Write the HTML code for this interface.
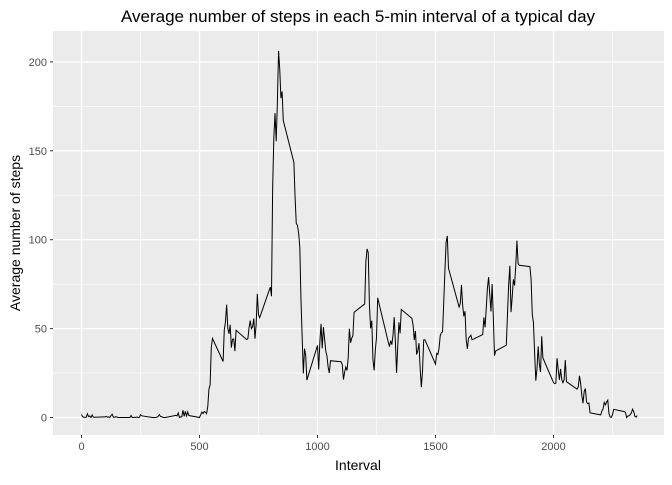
<!DOCTYPE html>
<html><head><meta charset="utf-8"><style>
body{margin:0;background:#fff;}
svg text{font-family:"Liberation Sans",sans-serif;}
</style></head><body>
<svg id="chart" width="672" height="480">
<rect x="0" y="0" width="672" height="480" fill="#fff"/>
<rect x="53" y="31" width="611" height="404" fill="#EBEBEB"/>
<g id="grid"></g>
<g id="axes"></g>
<path id="line" fill="none" stroke="#000" stroke-width="1"/>
<text x="358" y="22" text-anchor="middle" font-size="17" fill="#000">Average number of steps in each 5-min interval of a typical day</text>
<text x="358" y="470" text-anchor="middle" font-size="14" fill="#000">Interval</text>
<text transform="translate(20,233) rotate(-90)" text-anchor="middle" font-size="14" fill="#000">Average number of steps</text>
</svg>
<script>
const intervals=[0,5,10,15,20,25,30,35,40,45,50,55,100,105,110,115,120,125,130,135,140,145,150,155,200,205,210,215,220,225,230,235,240,245,250,255,300,305,310,315,320,325,330,335,340,345,350,355,400,405,410,415,420,425,430,435,440,445,450,455,500,505,510,515,520,525,530,535,540,545,550,555,600,605,610,615,620,625,630,635,640,645,650,655,700,705,710,715,720,725,730,735,740,745,750,755,800,805,810,815,820,825,830,835,840,845,850,855,900,905,910,915,920,925,930,935,940,945,950,955,1000,1005,1010,1015,1020,1025,1030,1035,1040,1045,1050,1055,1100,1105,1110,1115,1120,1125,1130,1135,1140,1145,1150,1155,1200,1205,1210,1215,1220,1225,1230,1235,1240,1245,1250,1255,1300,1305,1310,1315,1320,1325,1330,1335,1340,1345,1350,1355,1400,1405,1410,1415,1420,1425,1430,1435,1440,1445,1450,1455,1500,1505,1510,1515,1520,1525,1530,1535,1540,1545,1550,1555,1600,1605,1610,1615,1620,1625,1630,1635,1640,1645,1650,1655,1700,1705,1710,1715,1720,1725,1730,1735,1740,1745,1750,1755,1800,1805,1810,1815,1820,1825,1830,1835,1840,1845,1850,1855,1900,1905,1910,1915,1920,1925,1930,1935,1940,1945,1950,1955,2000,2005,2010,2015,2020,2025,2030,2035,2040,2045,2050,2055,2100,2105,2110,2115,2120,2125,2130,2135,2140,2145,2150,2155,2200,2205,2210,2215,2220,2225,2230,2235,2240,2245,2250,2255,2300,2305,2310,2315,2320,2325,2330,2335,2340,2345,2350,2355];
const steps=[1.72,0.34,0.13,0.15,0.08,2.09,0.53,0.87,0,1.47,0.3,0.13,0.32,0.68,0.15,0.34,0,1.11,1.83,0.17,0.17,0.38,0.26,0,0,0,1.13,0,0,0.13,0,0.23,0,0,1.55,0.94,0,0,0,0,0.21,0.62,1.62,0.58,0.49,0.08,0,0,1.19,0.94,2.57,0,0.34,0.36,4.11,0.66,3.49,0.83,3.11,1.11,0,1.57,3,2.25,3.32,2.96,2.09,6.06,16.02,18.34,39.45,44.49,31.49,49.26,53.77,63.45,49.96,47.08,52.15,39.34,44.02,44.17,37.36,49.04,43.81,44.38,50.51,54.51,49.92,50.98,55.68,44.32,52.26,69.55,57.85,56.15,73.38,68.21,129.43,157.53,171.15,155.4,177.3,206.17,195.92,179.57,183.4,167.02,143.45,124.04,109.11,108.11,103.72,95.96,66.21,45.23,24.79,38.75,34.98,21.06,40.57,26.98,42.42,52.66,38.92,50.79,44.28,37.42,34.7,28.34,25.09,31.94,31.36,29.68,21.32,25.55,28.38,26.47,33.43,49.98,42.04,44.6,46.04,59.19,63.87,87.7,94.85,92.77,63.4,50.17,54.47,32.42,26.53,37.74,45.06,67.28,42.34,39.89,43.26,40.98,46.25,56.43,42.75,25.13,39.96,53.55,47.32,60.81,55.75,51.96,43.58,48.7,35.47,37.55,41.85,27.51,17.11,26.08,43.62,43.77,30.02,36.08,35.49,38.85,45.96,47.75,48.13,65.32,82.91,98.66,102.11,83.96,62.13,64.13,74.55,63.17,56.91,59.77,43.87,38.57,44.66,45.45,46.21,43.68,46.62,56.3,50.72,61.23,72.72,78.94,68.94,59.66,75.09,56.51,34.77,37.45,40.68,58.02,74.7,85.32,59.26,67.77,77.7,74.25,85.34,99.45,86.58,85.6,84.87,77.83,58.04,53.36,36.32,20.72,27.4,40.02,30.21,25.55,45.66,33.53,19.62,19.02,19.34,33.34,26.81,21.17,27.3,21.34,19.55,21.32,32.3,20.15,15.94,17.23,23.45,19.25,12.45,8.02,14.66,16.3,8.68,7.79,8.13,2.62,1.45,3.68,4.81,8.51,7.08,8.7,9.75,2.21,0.32,0.11,1.6,4.6,3.3,2.85,0,0.83,0.96,1.58,2.6,4.7,3.3,0.64,0.23,1.08];
const xTicks=[0,500,1000,1500,2000];
const yTicks=[0,50,100,150,200];
const X=v=>81.5+v*0.236, Y=v=>417.5-v*1.778;
const NS='http://www.w3.org/2000/svg';
const grid=document.getElementById('grid'), axes=document.getElementById('axes');
function ln(p,x1,y1,x2,y2,c,w){const l=document.createElementNS(NS,'line');l.setAttribute('x1',x1);l.setAttribute('y1',y1);l.setAttribute('x2',x2);l.setAttribute('y2',y2);l.setAttribute('stroke',c);l.setAttribute('stroke-width',w);p.appendChild(l);return l;}
function tx(x,y,s,a){const t=document.createElementNS(NS,'text');t.setAttribute('x',x);t.setAttribute('y',y);t.setAttribute('text-anchor',a);t.setAttribute('font-size','11');t.setAttribute('fill','#4D4D4D');t.textContent=s;axes.appendChild(t);return t;}
for(let i=0;i<xTicks.length+1;i++){const m=xTicks[0]+(i-0.5)*500;const px=X(m);if(px>53&&px<664){const g=ln(grid,px,31,px,435,'#fff',0.6);}}
for(let i=0;i<yTicks.length+1;i++){const m=(i-0.5)*50;const py=Y(m);if(py>31&&py<435){const g=ln(grid,53,py,664,py,'#fff',0.6);}}
xTicks.forEach(v=>{const g=ln(grid,X(v),31,X(v),435,'#fff',1.3);
const k=ln(axes,X(v),435,X(v),438,'#333',1);
const t=tx(X(v),450,String(v),'middle');});
yTicks.forEach(v=>{const g=ln(grid,53,Y(v),664,Y(v),'#fff',1.3);
const k=ln(axes,50,Y(v),53,Y(v),'#333',1);
const t=tx(47,Y(v)+4,String(v),'end');});
document.getElementById('line').setAttribute('d',intervals.map((v,i)=>(i?'L':'M')+X(v).toFixed(2)+','+Y(steps[i]).toFixed(2)).join(''));
</script>
</body></html>
